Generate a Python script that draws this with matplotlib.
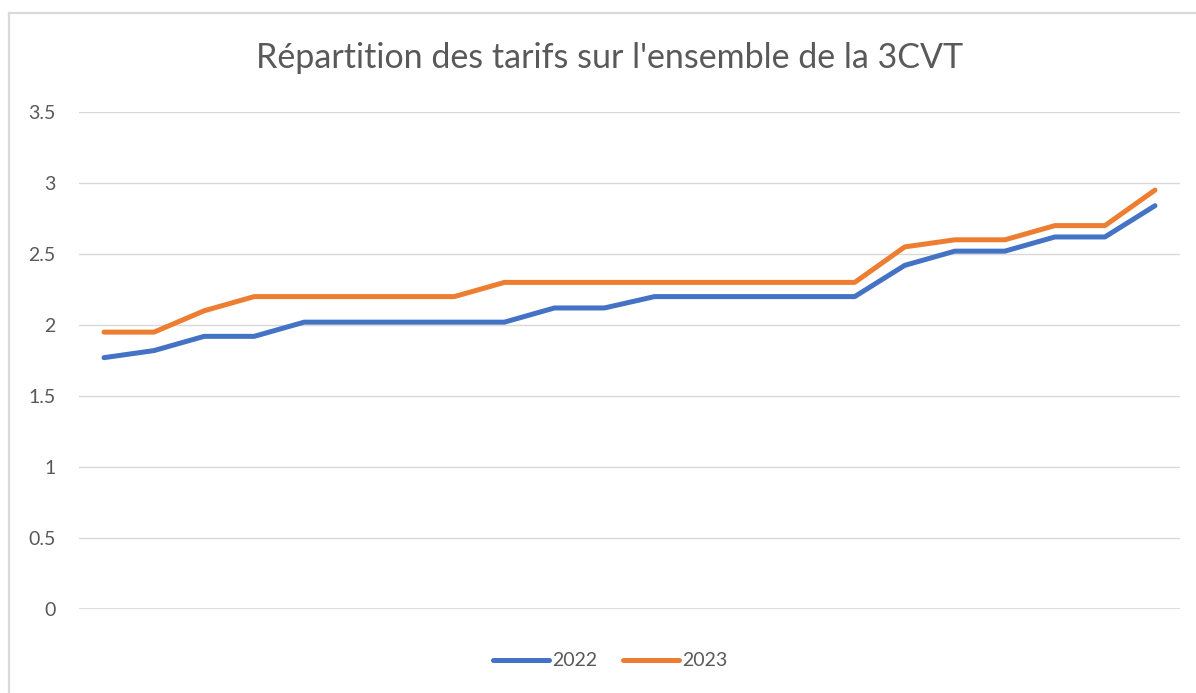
import matplotlib
matplotlib.use("Agg")
import matplotlib.pyplot as plt
from matplotlib.lines import Line2D

# values (22 categories, no labels shown)
tarifs_2022 = [1.77, 1.82, 1.92, 1.92, 2.02, 2.02, 2.02, 2.02, 2.02, 2.12, 2.12,
               2.20, 2.20, 2.20, 2.20, 2.20, 2.42, 2.52, 2.52, 2.62, 2.62, 2.84]
tarifs_2023 = [1.95, 1.95, 2.10, 2.20, 2.20, 2.20, 2.20, 2.20, 2.30, 2.30, 2.30,
               2.30, 2.30, 2.30, 2.30, 2.30, 2.55, 2.60, 2.60, 2.70, 2.70, 2.95]
series_labels = ["2022", "2023"]
y_ticks = [0, 0.5, 1, 1.5, 2, 2.5, 3, 3.5]
y_tick_labels = ["0", "0.5", "1", "1.5", "2", "2.5", "3", "3.5"]

plt.rcParams['font.family'] = ['Lato', 'DejaVu Sans']

W, H = 1196, 693
fig = plt.figure(figsize=(W / 100, H / 100), dpi=100)
ax = fig.add_axes([79 / W, 1 - 609 / H, (1180 - 79) / W, (609 - 112) / H])

x = list(range(len(tarifs_2022)))
ax.plot(x, tarifs_2022, color='#4472C4', linewidth=3.6, solid_capstyle='round',
        solid_joinstyle='round', label=series_labels[0])
ax.plot(x, tarifs_2023, color='#ED7D31', linewidth=3.6, solid_capstyle='round',
        solid_joinstyle='round', label=series_labels[1])

ax.set_xlim(-0.5, len(x) - 0.5)
ax.set_ylim(0, 3.5)
ax.set_yticks(y_ticks)
ax.set_yticklabels(y_tick_labels)
ax.set_xticks([])
ax.tick_params(axis='y', length=0, pad=17, labelsize=14, labelcolor='#595959')
ax.grid(axis='y', color='#d9d9d9', linewidth=1)
ax.set_axisbelow(True)
for s in ax.spines.values():
    s.set_visible(False)
ax.axhline(0, color='#d9d9d9', linewidth=1.2, zorder=0)

fig.text(0.51, 1 - 58 / H, "Répartition des tarifs sur l'ensemble de la 3CVT",
         ha='center', va='center', fontsize=24.5, color='#595959')

leg = fig.legend(loc='center', bbox_to_anchor=(0.51, 1 - 661 / H), ncol=2, frameon=False,
                 fontsize=14, handlelength=2.9, handletextpad=0.15, columnspacing=1.3)
for t in leg.get_texts():
    t.set_color('#595959')

# chart-area border: only the left and top edges are inside the picture
fig.add_artist(Line2D([8.5 / W, 8.5 / W], [0, 1 - 13 / H], transform=fig.transFigure,
                      color='#d9d9d9', linewidth=1.6))
fig.add_artist(Line2D([8.5 / W, 1], [1 - 13 / H, 1 - 13 / H], transform=fig.transFigure,
                      color='#d9d9d9', linewidth=1.6))

fig.savefig('out.png', dpi=100)
